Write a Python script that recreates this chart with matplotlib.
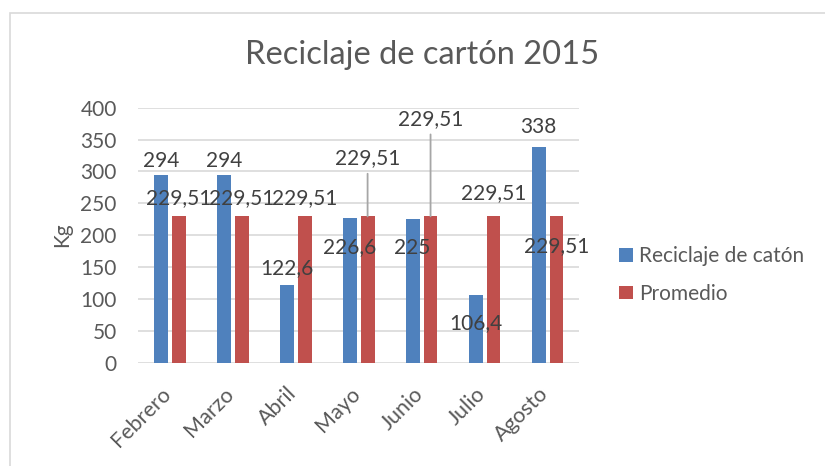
import matplotlib.pyplot as plt
import matplotlib.transforms as mtransforms
import numpy as np
from matplotlib.patches import Rectangle

# data
months = ['Febrero', 'Marzo', 'Abril', 'Mayo', 'Junio', 'Julio', 'Agosto']
reciclaje = [294, 294, 122.6, 226.6, 225, 106.4, 338]
promedio = [229.51, 229.51, 229.51, 229.51, 229.51, 229.51, 229.51]
serie_names = ['Reciclaje de catón', 'Promedio']
title = 'Reciclaje de cartón 2015'

# label placement (pixel offsets of the text centre from the bar top)
dy_blue = [16, 16, 18, -27.6, -27, -26.8, 22]
dy_red = [20, 20, 20, 59.7, 99, 24.7, -28.6]
leader_red = [False, False, False, True, True, False, False]

plt.rcParams['font.family'] = ['Lato', 'DejaVu Sans']

blue = '#4f81bd'
red = '#c0504d'
txt = '#595959'
lbl = '#404040'

fig = plt.figure(figsize=(8.25, 4.66), dpi=100)
fig.patch.set_facecolor('white')

# chart border
fig.patches.append(Rectangle((10/825, -0.05), 1.0, 1 - 12.5/466 + 0.05,
                             transform=fig.transFigure, fill=False,
                             edgecolor='#d9d9d9', lw=1.2))

ax = fig.add_axes([138.3/825, 1 - 362.7/466, (579 - 138.3)/825, (362.7 - 107.7)/466])

x = np.arange(len(months))
w = 0.22
off = 0.142
b1 = ax.bar(x - off, reciclaje, w, color=blue, zorder=3, label=serie_names[0])
b2 = ax.bar(x + off, promedio, w, color=red, zorder=3, label=serie_names[1])

ax.set_xlim(-0.5, len(months) - 0.5)
ax.set_ylim(0, 400)
ax.set_yticks(np.arange(0, 401, 50))
ax.grid(axis='y', color='#d9d9d9', lw=1.2, zorder=0)
for s in ax.spines.values():
    s.set_visible(False)
ax.tick_params(axis='both', length=0, labelsize=15, labelcolor=txt)
ax.tick_params(axis='y', pad=15.5)
ax.tick_params(axis='x', pad=15, labelsize=15.5)
ax.set_xticks(x)
ax.set_xticklabels(months, rotation=45, ha='right', va='top', rotation_mode='anchor')
shift = mtransforms.ScaledTranslation(-9/100, 0, fig.dpi_scale_trans)
for t in ax.get_xticklabels():
    t.set_transform(t.get_transform() + shift)


def fmt(v):
    s = ('%g' % v).replace('.', ',')
    return s


for i in range(len(months)):
    ax.annotate(fmt(reciclaje[i]), (x[i] - off, reciclaje[i]),
                xytext=(0, dy_blue[i] - 7.5), textcoords='offset pixels',
                ha='center', va='baseline', fontsize=15, color=lbl, zorder=5)
    ap = None
    if leader_red[i]:
        ap = dict(arrowstyle='-', color='#a6a6a6', lw=1.3, shrinkA=2, shrinkB=0)
    ax.annotate(fmt(promedio[i]), (x[i] + off, promedio[i]),
                xytext=(0, dy_red[i] - 7.5), textcoords='offset pixels',
                ha='center', va='baseline', fontsize=15, color=lbl, zorder=5,
                arrowprops=ap)

fig.text(0.512, 1 - 55/466, title, ha='center', va='center', fontsize=23.5, color=txt)
fig.text(62/825, 1 - 235/466, 'Kg', rotation=90, ha='center', va='center',
         fontsize=15, color=txt)

fig.legend(handles=[b1, b2], loc='center left', bbox_to_anchor=(619/825, 1 - 275/466),
           frameon=False, fontsize=15, labelcolor=txt, handlelength=0.65,
           handleheight=0.65, handletextpad=0.3, labelspacing=0.85,
           borderpad=0, borderaxespad=0)

fig.savefig('out.png', dpi=100)
